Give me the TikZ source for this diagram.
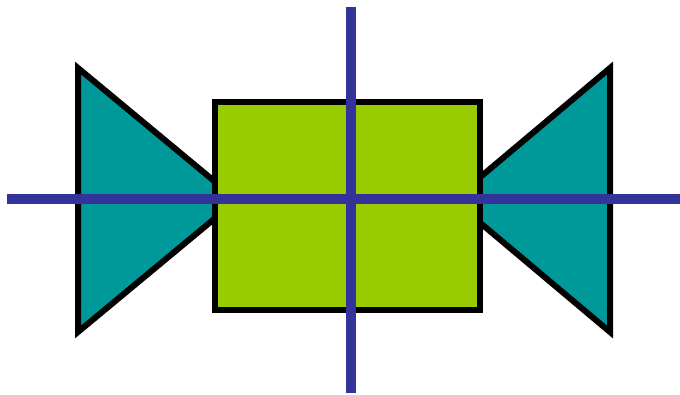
\documentclass[tikz,border=0pt]{standalone}
\usetikzlibrary{calc}
\definecolor{tealfill}{RGB}{0,153,153}
\definecolor{limefill}{RGB}{153,204,0}
\definecolor{crossblue}{RGB}{51,51,153}
\tikzset{
  wing/.style={fill=tealfill, draw=black, line width=4.5pt, line join=miter},
  body/.style={fill=limefill, draw=black, line width=4.5pt},
  axis/.style={draw=crossblue, line width=8pt}
}
\begin{document}
\begin{tikzpicture}[x=0.75pt,y=-0.75pt]
\useasboundingbox (0,0) rectangle (680,395);
% left wing
\coordinate (lt) at (78,68);
\coordinate (lb) at (78,332);
\coordinate (la) at (237,200);
\draw[wing] (lt) -- (la) -- (lb) -- cycle;
% right wing
\coordinate (rt) at (610,68);
\coordinate (rb) at (610,332);
\coordinate (ra) at (453,200);
\draw[wing] (rt) -- (ra) -- (rb) -- cycle;
% body
\coordinate (bl) at (215,102);
\coordinate (br) at (480,310);
\draw[body] (bl) rectangle (br);
% cross
\coordinate (hl) at (7,199);
\coordinate (hr) at (680,199);
\coordinate (vt) at (351,7);
\coordinate (vb) at (351,393);
\draw[axis] (hl) -- (hr);
\draw[axis] (vt) -- (vb);
\end{tikzpicture}
\end{document}
